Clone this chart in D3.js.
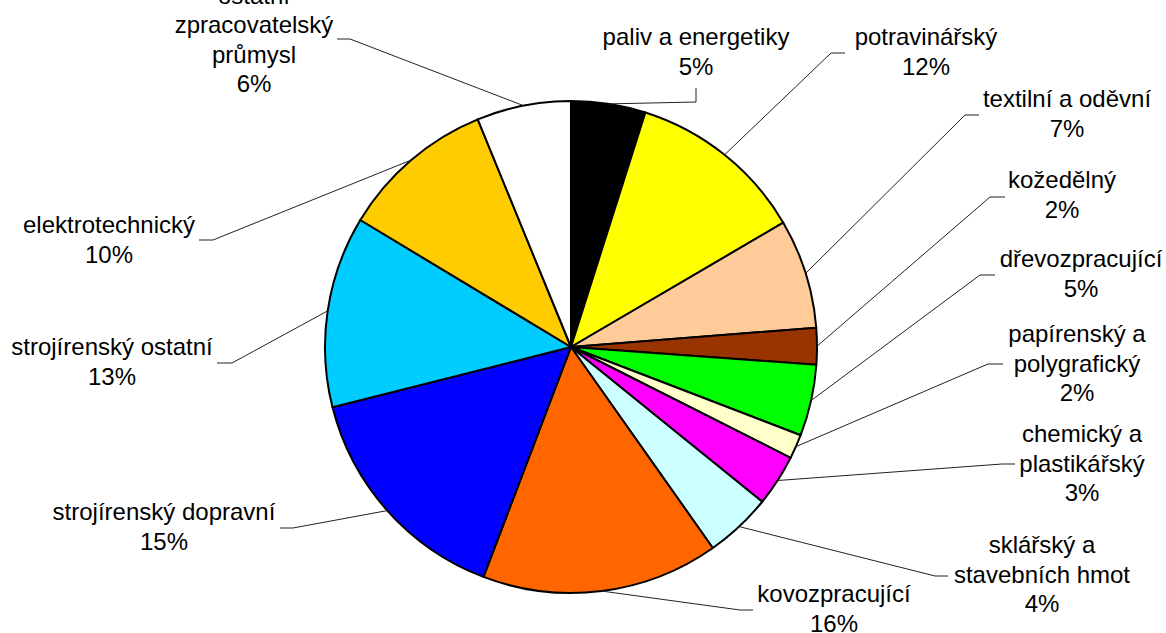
<!DOCTYPE html>
<html>
<head>
<meta charset="utf-8">
<script src="https://cdn.jsdelivr.net/npm/d3@7"></script>
<style>
	html, body { margin: 0; padding: 0; background: #fff; }
	svg { display: block; }
	.label { font-family: "Liberation Sans", Arial, sans-serif; font-size: 24px; fill: #000; }
	.leader { fill: none; stroke: #222; stroke-width: 1; }
</style>
</head>
<body>
<svg id="chart" width="1166" height="633"></svg>
<script>
/* global d3 */
// sectors, clockwise from 12 o'clock (share of the total, %)
const sectors = [
	'paliv a energetiky',
	'potravinářský',
	'textilní a oděvní',
	'kožedělný',
	'dřevozpracující',
	'papírenský a|polygrafický',
	'chemický a|plastikářský',
	'sklářský a|stavebních hmot',
	'kovozpracující',
	'strojírenský dopravní',
	'strojírenský ostatní',
	'elektrotechnický',
	'ostatní|zpracovatelský|průmysl'
];
const shares = [4.9, 11.7, 7.2, 2.4, 4.7, 1.6, 3.4, 4.4, 15.6, 15.3, 12.6, 10.2, 6.2];
const colors = ['#000000', '#FFFF00', '#FFCC99', '#993300', '#00FF00', '#FFFFCC', '#FF00FF',
	'#CCFFFF', '#FF6600', '#0000FF', '#00CCFF', '#FFCC00', '#FFFFFF'];

// where each label sits: centre x, first baseline, and the two knee points of its leader line
const labelPos = [
	{ x: 696, y: 45, knee: [[696, 102], [696, 88]] },
	{ x: 926, y: 45, knee: [[831, 53], [845, 53]] },
	{ x: 1067, y: 107, knee: [[965, 115], [979, 115]] },
	{ x: 1062, y: 188, knee: [[990, 197], [1005, 197]] },
	{ x: 1081, y: 267, knee: [[980, 275], [995, 275]] },
	{ x: 1077, y: 342, knee: [[988, 364], [1003, 364]] },
	{ x: 1082, y: 442, knee: [[1002, 464], [1015, 464]] },
	{ x: 1042, y: 553, knee: [[935, 576], [948, 576]] },
	{ x: 834, y: 602, knee: [[740, 610], [753, 610]] },
	{ x: 164, y: 520, knee: [[293, 528], [280, 528]] },
	{ x: 112, y: 355, knee: [[232, 363], [217, 363]] },
	{ x: 109, y: 233, knee: [[213, 240], [199, 240]] },
	{ x: 254, y: 3.5, knee: [[350, 39], [337, 39]] }
];

const svg = d3.select('#chart'),
	cx = 571, cy = 347, radius = 246, lineH = 29.5;

const total = d3.sum(shares);
const data = sectors.map((name, i) => ({ name, value: shares[i], color: colors[i], pos: labelPos[i] }));

const pie = d3.pie().sort(null).value(d => d.value);
const arc = d3.arc().innerRadius(0).outerRadius(radius);
const arcs = pie(data);

const g = svg.append('g').attr('transform', 'translate(' + cx + ',' + cy + ')');

g.selectAll('path.slice')
	.data(arcs)
	.join('path')
	.attr('class', 'slice')
	.attr('d', arc)
	.attr('fill', d => d.data.color)
	.attr('stroke', '#000')
	.attr('stroke-width', 2)
	.attr('stroke-linejoin', 'round');

// leader lines from the slice edge to the label
const line = d3.line();
svg.selectAll('path.leader')
	.data(arcs)
	.join('path')
	.attr('class', 'leader')
	.attr('d', d => {
		let a = (d.startAngle + d.endAngle) / 2,
			edge = [cx + radius * Math.sin(a), cy - radius * Math.cos(a)];
		return line([edge].concat(d.data.pos.knee));
	});

// labels
const labels = svg.selectAll('text.label')
	.data(arcs)
	.join('text')
	.attr('class', 'label')
	.attr('text-anchor', 'middle');

labels.each(function (d) {
	let lines = d.data.name.split('|').concat(Math.round(d.data.value / total * 100) + '%');
	d3.select(this).selectAll('tspan')
		.data(lines)
		.join('tspan')
		.attr('x', d.data.pos.x)
		.attr('y', (t, i) => d.data.pos.y + i * lineH)
		.text(t => t);
});
</script>
</body>
</html>
